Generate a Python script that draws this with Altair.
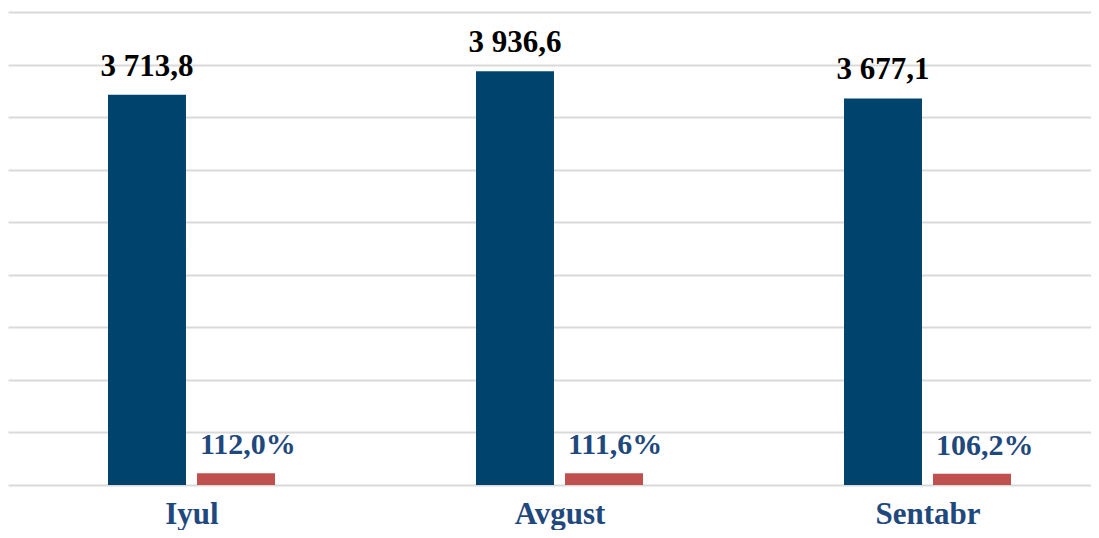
import altair as alt
import pandas as pd

months = ["Iyul", "Avgust", "Sentabr"]
values = [3713.8, 3936.6, 3677.1]
growth = [112.0, 111.6, 106.2]
series_names = ["Hajm", "O'sish"]


def fmt_value(v):
    return f"{v:,.1f}".replace(",", " ").replace(".", ",")


def fmt_pct(v):
    return f"{v:.1f}".replace(".", ",") + "%"


rows = []
for m, v, g in zip(months, values, growth):
    rows.append({"month": m, "series": series_names[0], "amount": v, "label": fmt_value(v)})
    rows.append({"month": m, "series": series_names[1], "amount": g, "label": fmt_pct(g)})
df = pd.DataFrame(rows)

FONT = "Liberation Serif"

x = alt.X(
    "month:N",
    sort=months,
    scale=alt.Scale(paddingInner=0, paddingOuter=0),
    axis=alt.Axis(
        title=None,
        labelAngle=0,
        domain=False,
        ticks=False,
        grid=False,
        labelFont=FONT,
        labelFontSize=31,
        labelFontWeight="bold",
        labelColor="#1F497D",
        labelPadding=14,
    ),
)
xo = alt.XOffset(
    "series:N",
    scale=alt.Scale(domain=series_names, range=[100, 267], paddingInner=0.124, paddingOuter=0),
)
y = alt.Y(
    "amount:Q",
    scale=alt.Scale(domain=[0, 4500], nice=False),
    axis=alt.Axis(
        title=None,
        labels=False,
        ticks=False,
        domain=False,
        grid=True,
        values=list(range(0, 4501, 500)),
        gridColor="#D9D9D9",
        gridWidth=2,
    ),
)

base = alt.Chart(df)

bars = base.mark_bar().encode(
    x=x,
    xOffset=xo,
    y=y,
    color=alt.Color(
        "series:N",
        scale=alt.Scale(domain=series_names, range=["#00446E", "#C0504D"]),
        legend=None,
    ),
)

value_labels = base.transform_filter(
    alt.datum.series == series_names[0]
).mark_text(
    font=FONT, fontSize=31, fontWeight="bold", color="#000000",
    align="center", baseline="alphabetic", dy=-19,
).encode(x=x, xOffset=xo, y=y, text="label:N")

pct_labels = base.transform_filter(
    alt.datum.series == series_names[1]
).mark_text(
    font=FONT, fontSize=30, fontWeight="bold", color="#1F497D",
    align="left", baseline="alphabetic", dy=-19, dx=-36,
).encode(x=x, xOffset=xo, y=y, text="label:N")

chart = alt.layer(bars, value_labels, pct_labels).properties(
    width=1104,
    height=473,
    autosize=alt.AutoSizeParams(type="none"),
    padding={"left": 0, "top": 4, "right": -21, "bottom": 45},
    background="white",
).configure_view(stroke=None)

chart.save("out.html", embed_options={"renderer": "svg", "actions": False})
